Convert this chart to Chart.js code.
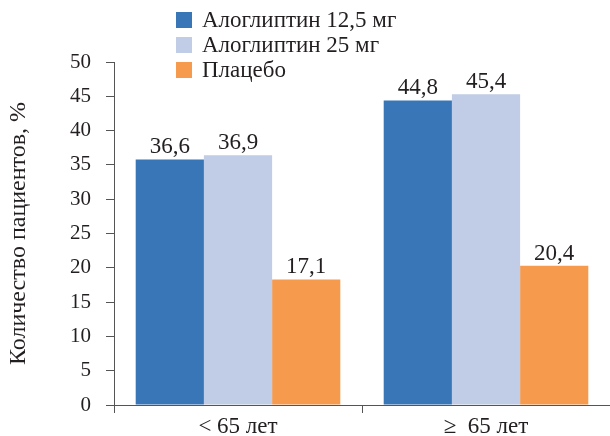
<!DOCTYPE html>
<html>
<head>
<meta charset="utf-8">
<script src="https://cdn.jsdelivr.net/npm/chart.js@4"></script>
<style>
  html, body { margin:0; padding:0; background:#fff; }
  #wrap { position:relative; width:610px; height:436px; }
  #legend { position:absolute; left:176px; top:7px; font-family:"Liberation Serif", serif; font-size:23px; color:#231f20; }
  .item { display:flex; align-items:center; height:25px; white-space:nowrap; }
  .sw { width:16px; height:16px; margin-right:10px; flex:none; }
</style>
</head>
<body>
<div id="wrap">
  <canvas id="c" width="610" height="436"></canvas>
  <div id="legend"></div>
</div>
<script>
const categories = ["< 65 лет", "\u2265  65 лет"];
const seriesNames = ["Алоглиптин 12,5 мг", "Алоглиптин 25 мг", "Плацебо"];
// bar heights as drawn in the reference
const alo125 = [35.8, 44.4];
const alo25 = [36.4, 45.3];
const placebo = [18.3, 20.3];
// value labels as printed in the reference
const alo125Labels = ["36,6", "44,8"];
const alo25Labels = ["36,9", "45,4"];
const placeboLabels = ["17,1", "20,4"];
const yTicks = [0, 5, 10, 15, 20, 25, 30, 35, 40, 45, 50];

const colors = ["#3876b8", "#c1cce6", "#f69b4e"];
const FONT = "'Liberation Serif', 'Times New Roman', serif";
const TEXT = "#231f20";

const datasets = [
  { label: seriesNames[0], data: alo125, backgroundColor: colors[0], valueLabels: alo125Labels },
  { label: seriesNames[1], data: alo25, backgroundColor: colors[1], valueLabels: alo25Labels },
  { label: seriesNames[2], data: placebo, backgroundColor: colors[2], valueLabels: placeboLabels }
].map(d => Object.assign(d, { barPercentage: 1.0, categoryPercentage: 0.825, borderWidth: 0 }));

const valuePlugin = {
  id: 'valueLabels',
  afterDatasetsDraw(chart) {
    const ctx = chart.ctx;
    ctx.save();
    ctx.font = "23px " + FONT;
    ctx.fillStyle = TEXT;
    ctx.textAlign = 'center';
    ctx.textBaseline = 'alphabetic';
    chart.data.datasets.forEach((ds, i) => {
      chart.getDatasetMeta(i).data.forEach((bar, j) => {
        ctx.fillText(ds.valueLabels[j], bar.x, bar.y - 6);
      });
    });
    ctx.restore();
  }
};

const chart = new Chart(document.getElementById('c'), {
  type: 'bar',
  data: { labels: categories, datasets },
  options: {
    responsive: false,
    animation: false,
    devicePixelRatio: 1,
    layout: { padding: { top: 62, right: 0, left: 0, bottom: 0 } },
    plugins: { legend: { display: false }, tooltip: { enabled: false } },
    scales: {
      x: {
        grid: { drawOnChartArea: false, drawTicks: true, tickLength: 8, color: '#555', offset: true },
        border: { color: '#555', width: 1 },
        ticks: { font: { family: FONT, size: 23 }, color: TEXT, padding: 0 },
        afterFit: s => { s.height = 31; }
      },
      y: {
        min: 0, max: 50,
        afterBuildTicks: s => { s.ticks = yTicks.map(v => ({ value: v })); },
        grid: { drawOnChartArea: false, drawTicks: true, tickLength: 8, color: '#555' },
        border: { color: '#555', width: 1 },
        ticks: { font: { family: FONT, size: 21 }, color: TEXT, padding: 15 },
        title: { display: true, text: 'Количество пациентов, %', font: { family: FONT, size: 24 }, color: TEXT, padding: { top: 4, bottom: 0 } },
        afterFit: s => { s.width = 114; }
      }
    }
  },
  plugins: [valuePlugin]
});

const lg = document.getElementById('legend');
chart.data.datasets.forEach(ds => {
  const it = document.createElement('div'); it.className = 'item';
  const sw = document.createElement('div'); sw.className = 'sw'; sw.style.background = ds.backgroundColor;
  const tx = document.createElement('span'); tx.textContent = ds.label;
  it.appendChild(sw); it.appendChild(tx); lg.appendChild(it);
});
</script>
</body>
</html>
